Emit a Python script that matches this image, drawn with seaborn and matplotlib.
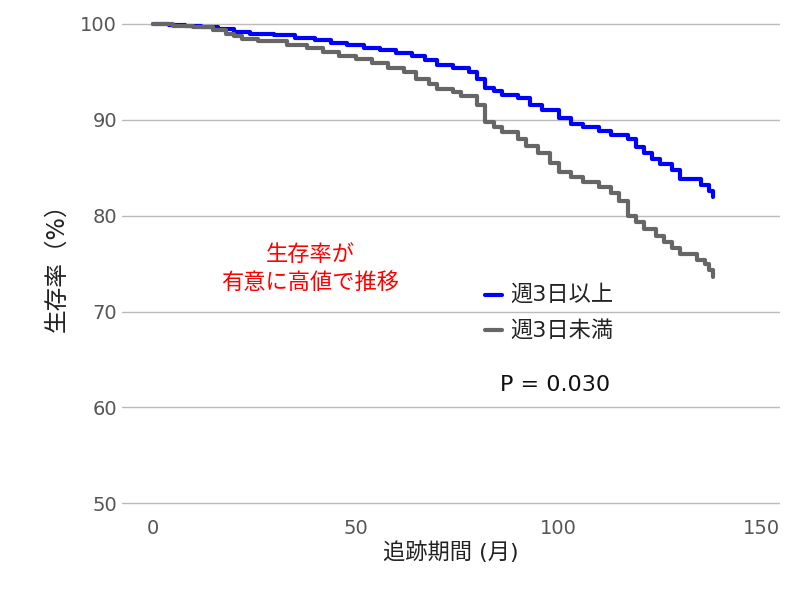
import matplotlib
matplotlib.use("Agg")
import matplotlib.pyplot as plt
import seaborn as sns
import pandas as pd

sns.set_style("white")
plt.rcParams['font.family'] = ['DejaVu Sans', 'Noto Sans CJK JP']

blue_t = [0, 4, 8, 12, 16, 20, 24, 30, 35, 40, 44, 48, 52, 56, 60, 64, 67, 70, 74, 78, 80, 82, 84, 86, 90, 93, 96, 100, 103, 106, 110, 113, 117, 119, 121, 123, 125, 128, 130, 135, 137, 138]
blue_s = [100, 99.9, 99.8, 99.7, 99.5, 99.2, 99.0, 98.8, 98.5, 98.3, 98.0, 97.8, 97.5, 97.3, 97.0, 96.7, 96.2, 95.7, 95.4, 95.0, 94.3, 93.3, 93.0, 92.6, 92.3, 91.5, 91.0, 90.2, 89.6, 89.2, 88.8, 88.4, 88.0, 87.2, 86.5, 85.9, 85.4, 84.8, 83.8, 83.2, 82.6, 82.0]
gray_t = [0, 5, 10, 15, 18, 20, 22, 26, 33, 38, 42, 46, 50, 54, 58, 62, 65, 68, 70, 74, 76, 80, 82, 84, 86, 90, 92, 95, 98, 100, 103, 106, 110, 113, 115, 117, 119, 121, 124, 126, 128, 130, 134, 136, 137, 138]
gray_s = [100, 99.8, 99.7, 99.4, 99.0, 98.7, 98.4, 98.2, 97.8, 97.5, 97.1, 96.7, 96.3, 95.9, 95.4, 95.0, 94.3, 93.7, 93.2, 92.9, 92.5, 91.5, 89.8, 89.2, 88.7, 88.0, 87.3, 86.5, 85.5, 84.6, 84.0, 83.5, 83.0, 82.4, 81.5, 80.0, 79.3, 78.6, 77.9, 77.3, 76.6, 76.0, 75.4, 75.0, 74.3, 73.6]

df = pd.concat([
    pd.DataFrame({"t": blue_t, "s": blue_s, "g": "週3日以上"}),
    pd.DataFrame({"t": gray_t, "s": gray_s, "g": "週3日未満"}),
])

fig = plt.figure(figsize=(8.01, 5.98), dpi=100)
ax = fig.add_axes([0.152, 0.155, 0.822, 0.813])
sns.lineplot(data=df, x="t", y="s", hue="g", palette={"週3日以上": "#0000FF", "週3日未満": "#666666"},
             drawstyle="steps-post", linewidth=3, ax=ax, legend=False)
ax.set_xlim(-7.6, 154.6)
ax.set_ylim(49.8, 100.5)
ax.set_yticks([50, 60, 70, 80, 90, 100])
ax.set_xticks([0, 50, 100, 150])
ax.yaxis.grid(True, color="#BBBBBB", linewidth=1)
for s in ["top", "right", "left", "bottom"]:
    ax.spines[s].set_visible(False)
ax.tick_params(axis="both", labelsize=14, colors="#555555", length=0)
ax.tick_params(axis="x", pad=10)
ax.set_xlabel("追跡期間 (月)", fontsize=16, color="#222222", labelpad=2)
ax.set_ylabel("生存率（%）", fontsize=17, color="#222222", labelpad=8)

ax.plot([0.605, 0.627], [0.507, 0.507], transform=fig.transFigure, color="#0000FF", lw=3)
ax.plot([0.605, 0.627], [0.448, 0.448], transform=fig.transFigure, color="#666666", lw=3)
fig.text(0.637, 0.507, "週3日以上", fontsize=16, va="center", color="#222222")
fig.text(0.637, 0.448, "週3日未満", fontsize=16, va="center", color="#222222")
fig.text(0.624, 0.356, "P = 0.030", fontsize=16, va="center", color="#111111")
fig.text(0.387, 0.574, "生存率が", fontsize=16, ha="center", va="center", color="#FF0000")
fig.text(0.387, 0.527, "有意に高値で推移", fontsize=16, ha="center", va="center", color="#FF0000")

fig.savefig("out.png", dpi=100)
